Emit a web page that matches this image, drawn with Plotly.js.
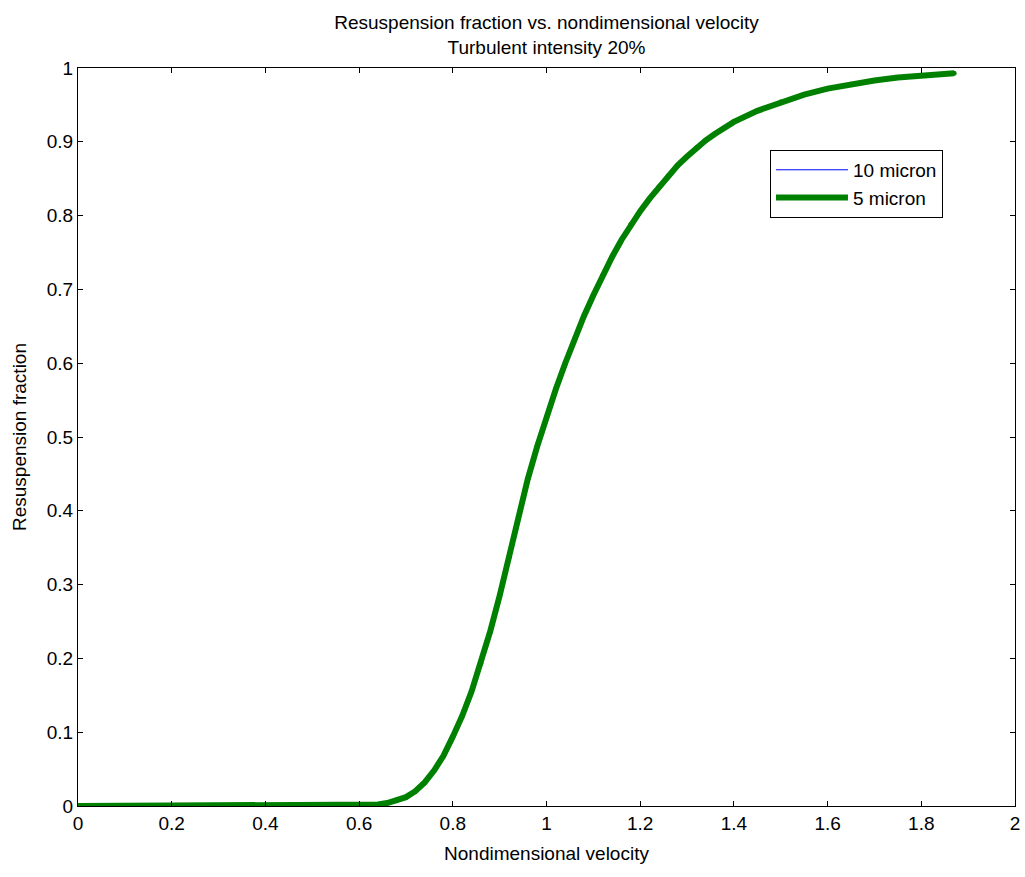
<!DOCTYPE html>
<html>
<head>
<meta charset="utf-8">
<script src="https://cdn.plot.ly/plotly-3.0.1.min.js"></script>
<style>html,body{margin:0;padding:0;background:#fff;}#chart{width:1025px;height:877px;}</style>
</head>
<body>
<div id="chart"></div>
<script>
// Nondimensional velocity (x) and resuspension fraction (y)
const velocity = [0, 0.36, 0.38, 0.62, 0.64, 0.66, 0.68, 0.70, 0.72, 0.74, 0.76, 0.78, 0.80, 0.82, 0.84, 0.86, 0.88, 0.90, 0.92, 0.94, 0.96, 0.98, 1.00, 1.02, 1.04, 1.06, 1.08, 1.10, 1.12, 1.14, 1.16, 1.18, 1.20, 1.22, 1.24, 1.26, 1.28, 1.30, 1.32, 1.34, 1.36, 1.38, 1.40, 1.45, 1.50, 1.55, 1.60, 1.65, 1.70, 1.75, 1.80, 1.87];
const fraction5 = [0, 0, 0.001, 0.001, 0.002, 0.004, 0.007, 0.012, 0.020, 0.032, 0.048, 0.068, 0.094, 0.122, 0.155, 0.193, 0.237, 0.285, 0.337, 0.392, 0.443, 0.487, 0.527, 0.565, 0.600, 0.633, 0.664, 0.692, 0.719, 0.744, 0.767, 0.788, 0.806, 0.823, 0.839, 0.854, 0.868, 0.880, 0.892, 0.902, 0.911, 0.919, 0.927, 0.942, 0.954, 0.964, 0.972, 0.978, 0.983, 0.987, 0.990, 0.993];
// 10 micron curve lies hidden beneath the 5 micron curve
const fraction10 = [0, 0, 0.001, 0.001, 0.002, 0.004, 0.007, 0.012, 0.020, 0.032, 0.048, 0.068, 0.094, 0.122, 0.155, 0.193, 0.237, 0.285, 0.337, 0.392, 0.443, 0.487, 0.527, 0.565, 0.600, 0.633, 0.664, 0.692, 0.719, 0.744, 0.767, 0.788, 0.806, 0.823, 0.839, 0.854, 0.868, 0.880, 0.892, 0.902, 0.911, 0.919, 0.927, 0.942, 0.954, 0.964, 0.972, 0.978, 0.983, 0.987, 0.990, 0.993];
const seriesNames = ["10 micron", "5 micron"];
const xTicks = [0, 0.2, 0.4, 0.6, 0.8, 1, 1.2, 1.4, 1.6, 1.8, 2];
const yTicks = [0, 0.1, 0.2, 0.3, 0.4, 0.5, 0.6, 0.7, 0.8, 0.9, 1];

const FONT = "Liberation Sans, Arial, Helvetica, sans-serif";
const FS = 19;

const traces = [
  {x: velocity, y: fraction10, name: seriesNames[0], mode: "lines",
   line: {color: "rgb(0,0,255)", width: 1}},
  {x: velocity, y: fraction5, name: seriesNames[1], mode: "lines+markers",
   line: {color: "rgb(0,128,0)", width: 6}, marker: {color: "rgb(0,128,0)", size: 5}}
];

const axisCommon = {
  showgrid: false, zeroline: false, showline: true, linecolor: "#000", linewidth: 1,
  mirror: "ticks", ticks: "inside", ticklen: 5, tickwidth: 1, tickcolor: "#000",
  tickfont: {family: FONT, size: FS, color: "#000"}
};

const layout = {
  width: 1025, height: 877,
  paper_bgcolor: "#fff", plot_bgcolor: "#fff",
  margin: {l: 78, r: 10, t: 68, b: 71},
  font: {family: FONT, color: "#000"},
  title: {text: "Resuspension fraction vs. nondimensional velocity<br>Turbulent intensity 20%",
          font: {family: FONT, size: 19, color: "#000"},
          x: 0.5, xref: "paper", xanchor: "center", yref: "paper", y: 1, yanchor: "bottom",
          pad: {b: 39}},
  xaxis: Object.assign({}, axisCommon, {
    range: [0, 2], tickvals: xTicks, ticktext: xTicks.map(String),
    title: {text: "Nondimensional velocity", font: {family: FONT, size: FS, color: "#000"}, standoff: 13}
  }),
  yaxis: Object.assign({}, axisCommon, {
    range: [0, 1], tickvals: yTicks, ticktext: yTicks.map(String),
    title: {text: "Resuspension fraction", font: {family: FONT, size: FS, color: "#000"}, standoff: 15}
  }),
  showlegend: true,
  legend: {x: 0.7385, y: 0.889, xanchor: "left", yanchor: "top",
           bgcolor: "#fff", bordercolor: "#000", borderwidth: 1, itemwidth: 72,
           font: {family: FONT, size: FS, color: "#000"}, tracegroupgap: 0}
};

Plotly.newPlot("chart", traces, layout, {staticPlot: true, displayModeBar: false});
</script>
</body>
</html>
